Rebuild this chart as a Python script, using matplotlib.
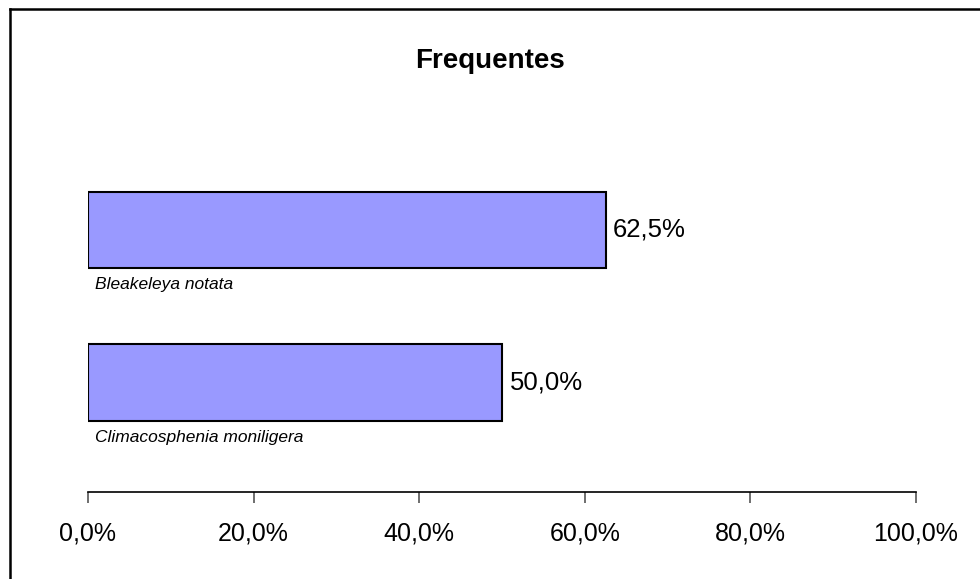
import matplotlib
matplotlib.use("Agg")
import matplotlib.pyplot as plt
from matplotlib.lines import Line2D

categories = ["Bleakeleya notata", "Climacosphenia moniligera"]
values = [62.5, 50.0]
value_labels = ["62,5%", "50,0%"]
xticks = [0, 20, 40, 60, 80, 100]
xtick_labels = ["0,0%", "20,0%", "40,0%", "60,0%", "80,0%", "100,0%"]
title = "Frequentes"

plt.rcParams['font.family'] = ['Liberation Sans', 'DejaVu Sans']

W, H = 980, 579
fig = plt.figure(figsize=(W / 100, H / 100), dpi=100)
ax = fig.add_axes([88 / W, 1 - 492 / H, (916 - 88) / W, (492 - 120.5) / H])

pos = list(range(len(categories)))
ax.barh(pos, values, height=0.5, color="#9999FF", edgecolor="black", linewidth=1.5)
ax.set_xlim(0, 100)
ax.set_ylim(1.718, -0.718)

for p, v, lab in zip(pos, values, value_labels):
    ax.text(v + 0.9, p, lab, va="center", ha="left", fontsize=18.5)
for p, c in zip(pos, categories):
    ax.text(0.9, p + 0.36, c, va="center", ha="left", fontsize=12.5, style="italic")

ax.set_xticks(xticks)
ax.set_xticklabels(xtick_labels, fontsize=18)
ax.set_yticks([])
for s in ["top", "right", "left"]:
    ax.spines[s].set_visible(False)
ax.spines["bottom"].set_linewidth(1.2)
ax.tick_params(axis="x", length=8, width=1.2, color="#555555", pad=13)

fig.text(0.5, 1 - 61 / H, title, ha="center", va="center", fontsize=20, fontweight="bold")

fig.add_artist(Line2D([9.5 / W, 9.5 / W], [0, 1 - 8.5 / H], transform=fig.transFigure, color="black", linewidth=1.8))
fig.add_artist(Line2D([9.5 / W, 1], [1 - 8.5 / H, 1 - 8.5 / H], transform=fig.transFigure, color="black", linewidth=1.8))

fig.savefig("out.png", dpi=100)
